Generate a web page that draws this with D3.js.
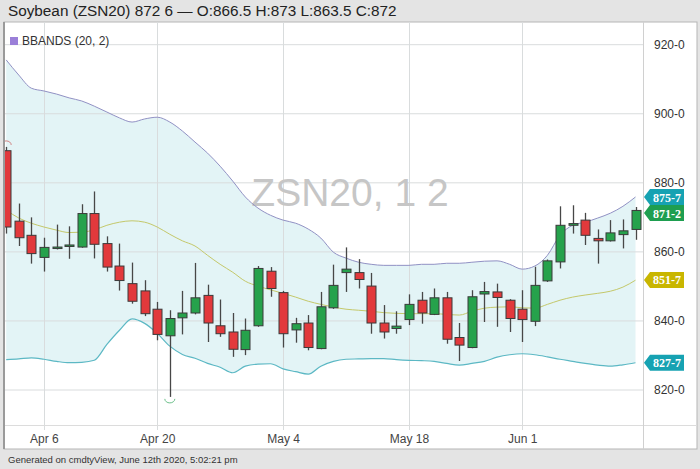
<!DOCTYPE html>
<html><head><meta charset="utf-8">
<script src="https://cdn.jsdelivr.net/npm/d3@7"></script>
<style>
body{margin:0;background:#e4e4e4;}
svg{display:block;font-family:"Liberation Sans",Arial,Helvetica,sans-serif;}
</style>
</head><body>
<svg id="c" width="700" height="469"></svg>
<script>
const dates = ["2020-04-01","2020-04-02","2020-04-03","2020-04-06","2020-04-07","2020-04-08","2020-04-09","2020-04-13","2020-04-14","2020-04-15","2020-04-16","2020-04-17","2020-04-20","2020-04-21","2020-04-22","2020-04-23","2020-04-24","2020-04-27","2020-04-28","2020-04-29","2020-04-30","2020-05-01","2020-05-04","2020-05-05","2020-05-06","2020-05-07","2020-05-08","2020-05-11","2020-05-12","2020-05-13","2020-05-14","2020-05-15","2020-05-18","2020-05-19","2020-05-20","2020-05-21","2020-05-22","2020-05-26","2020-05-27","2020-05-28","2020-05-29","2020-06-01","2020-06-02","2020-06-03","2020-06-04","2020-06-05","2020-06-08","2020-06-09","2020-06-10","2020-06-11","2020-06-12"];
const opens  = [889.3,868.9,864.8,858.4,861.0,861.8,861.4,871.1,862.4,855.9,850.8,848.7,843.4,835.7,840.9,842.3,847.4,838.6,836.8,831.7,838.6,854.4,848.2,837.4,839.4,832.0,843.8,854.0,854.0,850.1,839.4,837.8,840.4,846.0,841.9,846.7,835.2,832.3,847.8,848.4,846.0,843.4,839.9,851.6,857.1,867.7,869.2,863.9,863.2,865.0,866.5];
const highs  = [890.4,874.0,870.0,864.1,867.9,867.4,873.8,877.5,864.5,862.4,856.9,851.8,845.5,843.1,848.7,856.8,850.5,846.2,842.3,840.7,855.9,855.6,848.7,840.9,841.7,848.4,856.3,861.3,857.9,853.9,844.6,842.8,847.7,848.4,849.4,848.4,839.4,848.9,851.3,850.8,846.3,848.9,855.7,857.8,873.2,873.5,871.3,866.5,869.2,869.4,873.0];
const lows   = [865.3,861.7,856.6,854.3,860.7,858.0,861.2,858.1,854.3,848.8,845.0,841.4,834.4,818.0,836.1,841.9,833.9,835.4,829.6,830.1,838.3,847.0,832.3,833.7,831.5,831.8,843.5,848.4,849.4,836.3,834.9,836.3,838.8,839.2,841.7,833.4,828.4,832.1,839.7,838.3,836.8,833.9,838.5,851.3,855.2,865.3,862.0,856.6,863.0,861.0,863.5];
const closes = [867.2,864.1,859.5,861.3,861.4,862.0,871.1,862.2,855.6,851.7,845.7,842.1,836.1,840.7,842.3,846.7,839.4,836.3,831.8,837.3,855.2,849.4,836.3,839.2,832.3,844.1,850.3,855.0,852.0,839.4,836.8,838.5,844.8,842.3,846.7,834.7,833.0,847.0,848.5,846.8,840.7,840.4,850.3,857.4,867.7,868.2,864.8,863.2,865.5,866.1,872.0];
const bbUpper  = [915.6,911.2,907.4,906.6,905.7,904.6,903.7,902.2,900.5,898.8,897.6,898.5,899.0,897.6,895.0,891.8,888.6,884.8,880.5,875.9,872.7,870.6,869.2,868.3,866.6,864.0,859.9,858.2,857.0,856.4,856.1,856.1,856.1,856.4,856.4,856.7,856.7,857.0,857.3,857.4,856.4,855.0,855.9,859.0,864.8,867.7,868.6,869.8,871.2,873.2,875.9];
const bbMiddle = [872.1,869.8,868.3,867.2,866.3,865.6,865.7,866.4,867.7,868.6,869.0,868.6,867.2,865.1,863.2,861.7,859.0,856.4,854.1,851.5,850.1,849.0,848.0,846.9,845.7,844.8,844.0,843.4,843.1,842.8,842.4,842.2,842.1,842.1,842.1,841.9,841.7,842.8,843.7,844.0,844.1,843.8,843.7,844.8,846.0,846.9,847.5,848.0,848.6,849.8,851.8];
const bbLower  = [828.8,829.0,829.3,828.9,828.3,827.9,828.0,828.6,833.2,837.3,840.6,839.3,836.4,832.7,830.3,829.2,827.7,826.6,825.0,826.9,827.5,827.6,826.1,825.3,824.6,826.9,828.3,828.9,829.0,829.1,829.1,828.8,828.6,828.5,828.3,827.7,827.2,827.7,828.3,829.5,830.2,830.5,830.2,829.6,828.9,828.3,827.7,827.2,826.9,827.3,827.9];
const yTicks = [820,840,860,880,900,920];
const xTickDates = ["2020-04-06","2020-04-20","2020-05-04","2020-05-18","2020-06-01"];
const xTickLabels = ["Apr 6","Apr 20","May 4","May 18","Jun 1"];
const tagLabels = ["875-7","871-2","851-7","827-7"];
const tagValues = [875.875,871.25,851.875,827.875];
const titleText = "Soybean (ZSN20) 872 6 \u2014 O:866.5 H:873 L:863.5 C:872";
const legendText = "BBANDS (20, 2)";
const watermark = "ZSN20, 1 2";
const footerText = "Generated on cmdtyView, June 12th 2020, 5:02:21 pm";

const tagColors = ["#16a2b2","#1e9e50","#c9b600","#16a2b2"];
const svg = d3.select("#c");
const P = {l:4, r:643, t:22, b:425};

// panels
svg.append("rect").attr("x",0).attr("y",0).attr("width",700).attr("height",469).attr("fill","#e4e4e4");
svg.append("rect").attr("x",4).attr("y",22).attr("width",693).attr("height",427).attr("fill","#fff").attr("stroke","#b5b5b5").attr("stroke-width",1);

const x = d3.scalePoint().domain(dates).range([6.2, 635.5]);
const y = d3.scaleLinear().domain([820,920]).range([390,44.7]);

const defs = svg.append("defs");
defs.append("clipPath").attr("id","pc").append("rect").attr("x",P.l+1).attr("y",P.t).attr("width",P.r-P.l-1).attr("height",P.b-P.t);

const g = svg.append("g").attr("clip-path","url(#pc)");

// band fill
const idx = d3.range(dates.length);
g.append("path").datum(idx)
  .attr("d", d3.area().x(i=>x(dates[i])).y0(i=>y(bbLower[i])).y1(i=>y(bbUpper[i])).curve(d3.curveMonotoneX))
  .attr("fill","#e3f4f6");

// grid
g.selectAll(".hg").data(yTicks).join("line")
  .attr("x1",P.l).attr("x2",P.r).attr("y1",d=>y(d)).attr("y2",d=>y(d))
  .attr("stroke","#d9dcdd").attr("stroke-width",1);
svg.insert("g", "g").remove();
const vg = svg.append("g");
vg.selectAll("line").data(xTickDates).join("line")
  .attr("x1",d=>Math.round(x(d))+0.5).attr("x2",d=>Math.round(x(d))+0.5).attr("y1",P.t).attr("y2",P.b+5)
  .attr("stroke","#d9dcdd").attr("stroke-width",1);

// watermark
svg.append("text").attr("x",350).attr("y",206).attr("text-anchor","middle")
  .attr("font-size",39).attr("fill","#c6c6c6").text(watermark);

// band lines + candles (above grid)
const g2 = svg.append("g").attr("clip-path","url(#pc)");
const line = arr => d3.line().x(i=>x(dates[i])).y(i=>y(arr[i])).curve(d3.curveMonotoneX);
g2.append("path").datum(idx).attr("d",line(bbUpper)).attr("fill","none").attr("stroke","#9191c4").attr("stroke-width",1);
g2.append("path").datum(idx).attr("d",line(bbMiddle)).attr("fill","none").attr("stroke","#c4c86a").attr("stroke-width",1);
g2.append("path").datum(idx).attr("d",line(bbLower)).attr("fill","none").attr("stroke","#5cb8c4").attr("stroke-width",1.2);

const bw = 9;
const cg = g2.append("g");
cg.selectAll(".wk").data(idx).join("line")
  .attr("x1",i=>Math.round(x(dates[i]))+0.5).attr("x2",i=>Math.round(x(dates[i]))+0.5)
  .attr("y1",i=>y(highs[i])).attr("y2",i=>y(lows[i]))
  .attr("stroke","#474747").attr("stroke-width",1.3);
cg.selectAll(".bd").data(idx).join("rect")
  .attr("x",i=>Math.round(x(dates[i]))+0.5-bw/2)
  .attr("y",i=>y(Math.max(opens[i],closes[i])))
  .attr("width",bw)
  .attr("height",i=>Math.max(1.5, Math.abs(y(opens[i])-y(closes[i]))))
  .attr("fill",i=>closes[i]>=opens[i]?"#26a24c":"#e2393c")
  .attr("stroke","#3a3a3a").attr("stroke-width",1);

// high/low markers
const hiI = d3.maxIndex(highs), loI = d3.minIndex(lows);
g2.append("path").attr("d",()=>{const cx=x(dates[hiI]), cy=y(highs[hiI])-4; return `M${cx-5},${cy+2} A5,4 0 0 1 ${cx+5},${cy+2}`;})
  .attr("fill","none").attr("stroke","#d08080").attr("stroke-width",1);
g2.append("path").attr("d",()=>{const cx=x(dates[loI]), cy=y(lows[loI])+4; return `M${cx-5},${cy-2} A5,4 0 0 0 ${cx+5},${cy-2}`;})
  .attr("fill","none").attr("stroke","#6cc08a").attr("stroke-width",1);

// frame lines
svg.append("line").attr("x1",4).attr("x2",697).attr("y1",P.b+0.5).attr("y2",P.b+0.5).attr("stroke","#dcdcdc");
svg.append("line").attr("x1",P.r+0.5).attr("x2",P.r+0.5).attr("y1",22).attr("y2",449).attr("stroke","#d0d0d0");
svg.append("line").attr("x1",4).attr("x2",4).attr("y1",22).attr("y2",449).attr("stroke","#9a9a9a").attr("stroke-width",2);

// right axis
const ya = svg.append("g").attr("transform",`translate(${P.r},0)`)
  .call(d3.axisRight(y).tickValues(yTicks).tickFormat(d=>d+"-0").tickSize(0).tickPadding(11));
ya.select(".domain").remove();
ya.selectAll("text").attr("font-size",12).attr("fill","#333").attr("font-family","'Liberation Sans',Arial,sans-serif");

// bottom axis
const xa = svg.append("g").attr("transform",`translate(0,${P.b})`)
  .call(d3.axisBottom(x).tickValues(xTickDates).tickFormat((d,i)=>xTickLabels[i]).tickSize(0).tickPadding(9));
xa.select(".domain").remove();
xa.selectAll("text").attr("font-size",12).attr("fill","#444").attr("font-family","'Liberation Sans',Arial,sans-serif");

// tags
const tg = svg.selectAll(".tag").data(tagValues).join("g").attr("transform",d=>`translate(${P.r+1},${y(d)})`);
tg.append("path").attr("d","M0,0 L6,-8 L40,-8 L40,8 L6,8 Z").attr("fill",(d,i)=>tagColors[i]);
tg.append("text").attr("x",23).attr("y",4.5).attr("text-anchor","middle")
  .attr("font-family","'Liberation Serif','Times New Roman',serif").attr("font-weight","bold")
  .attr("font-size",12).attr("fill","#fff").text((d,i)=>tagLabels[i]);

// header
svg.append("text").attr("x",8).attr("y",16).attr("font-size",15.3).attr("fill","#222").text(titleText);
// legend
svg.append("rect").attr("x",10).attr("y",37).attr("width",8).attr("height",8).attr("fill","#9a7fd8");
svg.append("text").attr("x",22).attr("y",45).attr("font-size",12).attr("fill","#333").text(legendText);
// footer
svg.append("text").attr("x",8).attr("y",463).attr("font-size",9.5).attr("fill","#333").text(footerText);
</script>
</body></html>
